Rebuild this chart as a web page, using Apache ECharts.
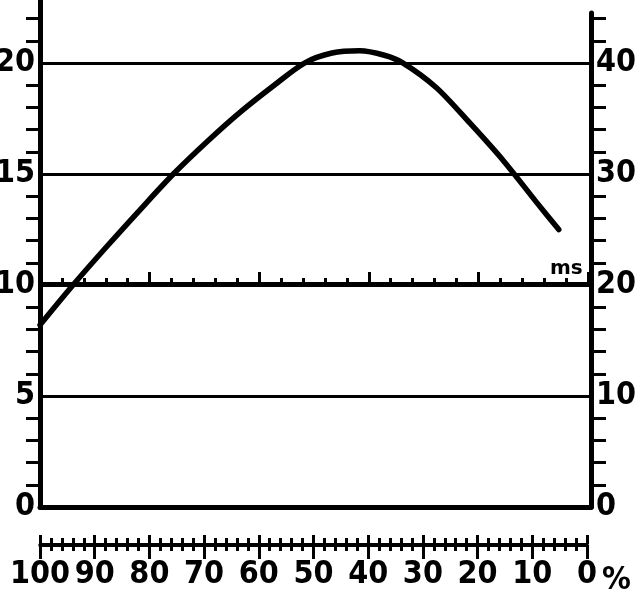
<!DOCTYPE html>
<html><head><meta charset="utf-8">
<script src="https://cdn.jsdelivr.net/npm/echarts@6/dist/echarts.min.js"></script>
<style>html,body{margin:0;padding:0;background:#fff}#c{width:640px;height:596px}</style>
</head><body><div id="c"></div>
<script>
// ---- data ----
const pctValues   = [100, 94, 88, 81.8, 75.8, 69.5, 63.6, 57.5, 52, 47, 42, 37.5, 34.1, 28.1, 22, 15.9, 9.8, 5.85];
const curveValues = [8.2, 10, 11.7, 13.4, 15, 16.5, 17.8, 19.0, 20.0, 20.45, 20.55, 20.35, 20.0, 18.9, 17.3, 15.6, 13.7, 12.5];
const leftLabels  = [0, 5, 10, 15, 20];
const gridValues  = [5, 10, 15, 20];
const leftTicks   = [1, 2, 3, 4, 6, 7, 8, 9, 11, 12, 13, 14, 16, 17, 18, 19, 21, 22];
const rightLabels = [0, 10, 20, 30, 40];
const rightTicks  = [2, 4, 6, 8, 12, 14, 16, 18, 22, 24, 26, 28, 32, 34, 36, 38, 42, 44];
const pctLabels   = [100, 90, 80, 70, 60, 50, 40, 30, 20, 10, 0];

const FONT = "'DejaVu Sans Condensed', 'DejaVu Sans', sans-serif";
const lab = {color:'#000', fontFamily:FONT, fontWeight:'bold', fontSize:32};
const blk = c => ({color:'#000', width:c});
const G = {outerBoundsMode:'none', containLabel:false};

const chart = echarts.init(document.getElementById('c'), null, {renderer:'canvas'});
chart.setOption({
  animation:false,
  backgroundColor:'#fff',
  title:[
    {text:'ms', left:545, top:254, textStyle:{color:'#000', fontFamily:'DejaVu Sans', fontWeight:'bold', fontSize:20}},
    {text:'%', left:597, top:560, textStyle:{color:'#000', fontFamily:FONT, fontWeight:'bold', fontSize:32}}
  ],
  grid:[
    Object.assign({left:40, right:49, top:0, bottom:89}, G),     // main (left axis)
    Object.assign({left:40, right:49, top:13, bottom:89}, G),    // right axis grid
    Object.assign({left:40, right:52, top:200, height:83}, G),   // ms scale at y = 10
    Object.assign({left:40, right:53, top:544, height:1}, G)     // percent scale
  ],
  xAxis:[
    {gridIndex:0, type:'value', min:0, max:100, inverse:true, position:'bottom',
     axisLine:{show:true, onZero:false, lineStyle:blk(5)}, axisTick:{show:false}, axisLabel:{show:false}, splitLine:{show:false}},
    {gridIndex:1, type:'value', min:0, max:100, show:false},
    {gridIndex:2, type:'value', min:0, max:25, interval:5, position:'bottom',
     axisLine:{show:true, onZero:false, lineStyle:blk(3)},
     axisTick:{show:true, inside:true, length:11, lineStyle:blk(3)},
     minorTick:{show:true, splitNumber:5, length:5, lineStyle:blk(3)},
     axisLabel:{show:false}, splitLine:{show:false}},
    {gridIndex:3, type:'value', min:0, max:100, interval:10, inverse:true, position:'top',
     axisLine:{show:true, onZero:false, lineStyle:blk(3)},
     axisTick:{show:true, inside:false, length:9, lineStyle:blk(3)},
     minorTick:{show:true, splitNumber:5, length:6, lineStyle:blk(3)},
     axisLabel:{show:false}, splitLine:{show:false}},
    {gridIndex:3, type:'value', min:0, max:100, interval:10, inverse:true, position:'bottom',
     axisLine:{show:true, onZero:false, lineStyle:blk(3)},
     axisTick:{show:true, inside:false, length:14, lineStyle:blk(3)},
     minorTick:{show:true, splitNumber:5, length:6, lineStyle:blk(3)},
     axisLabel:Object.assign({show:true, margin:14, customValues:pctLabels, hideOverlap:false}, lab),
     splitLine:{show:false}}
  ],
  yAxis:[
    {gridIndex:0, type:'value', min:0, max:22.84, position:'left',
     axisLine:{show:true, onZero:false, lineStyle:blk(5)},
     axisTick:{show:true, inside:false, length:14, customValues:leftTicks, lineStyle:blk(3)},
     axisLabel:Object.assign({show:true, margin:5, padding:[7,0,0,0], customValues:leftLabels}, lab),
     splitLine:{show:false}},
    {gridIndex:1, type:'value', min:0, max:44.5, position:'right',
     axisLine:{show:true, onZero:false, lineStyle:blk(5)},
     axisTick:{show:true, inside:false, length:15, customValues:rightTicks, lineStyle:blk(3)},
     axisLabel:Object.assign({show:true, margin:5, padding:[7,0,0,0], customValues:rightLabels}, lab),
     splitLine:{show:false}},
    {gridIndex:2, type:'value', show:false},
    {gridIndex:3, type:'value', show:false},
    {gridIndex:0, type:'value', min:0, max:22.84, position:'left',
     axisLine:{show:false}, axisLabel:{show:false},
     axisTick:{show:false, customValues:gridValues},
     splitLine:{show:true, lineStyle:{color:'#000', width:3}}}
  ],
  series:[{
    type:'line', xAxisIndex:0, yAxisIndex:0, smooth:0.3, showSymbol:false,
    lineStyle:{color:'#000', width:5.5, cap:'round', join:'round'},
    data: pctValues.map((p,i)=>[p, curveValues[i]])
  }]
});
</script></body></html>
